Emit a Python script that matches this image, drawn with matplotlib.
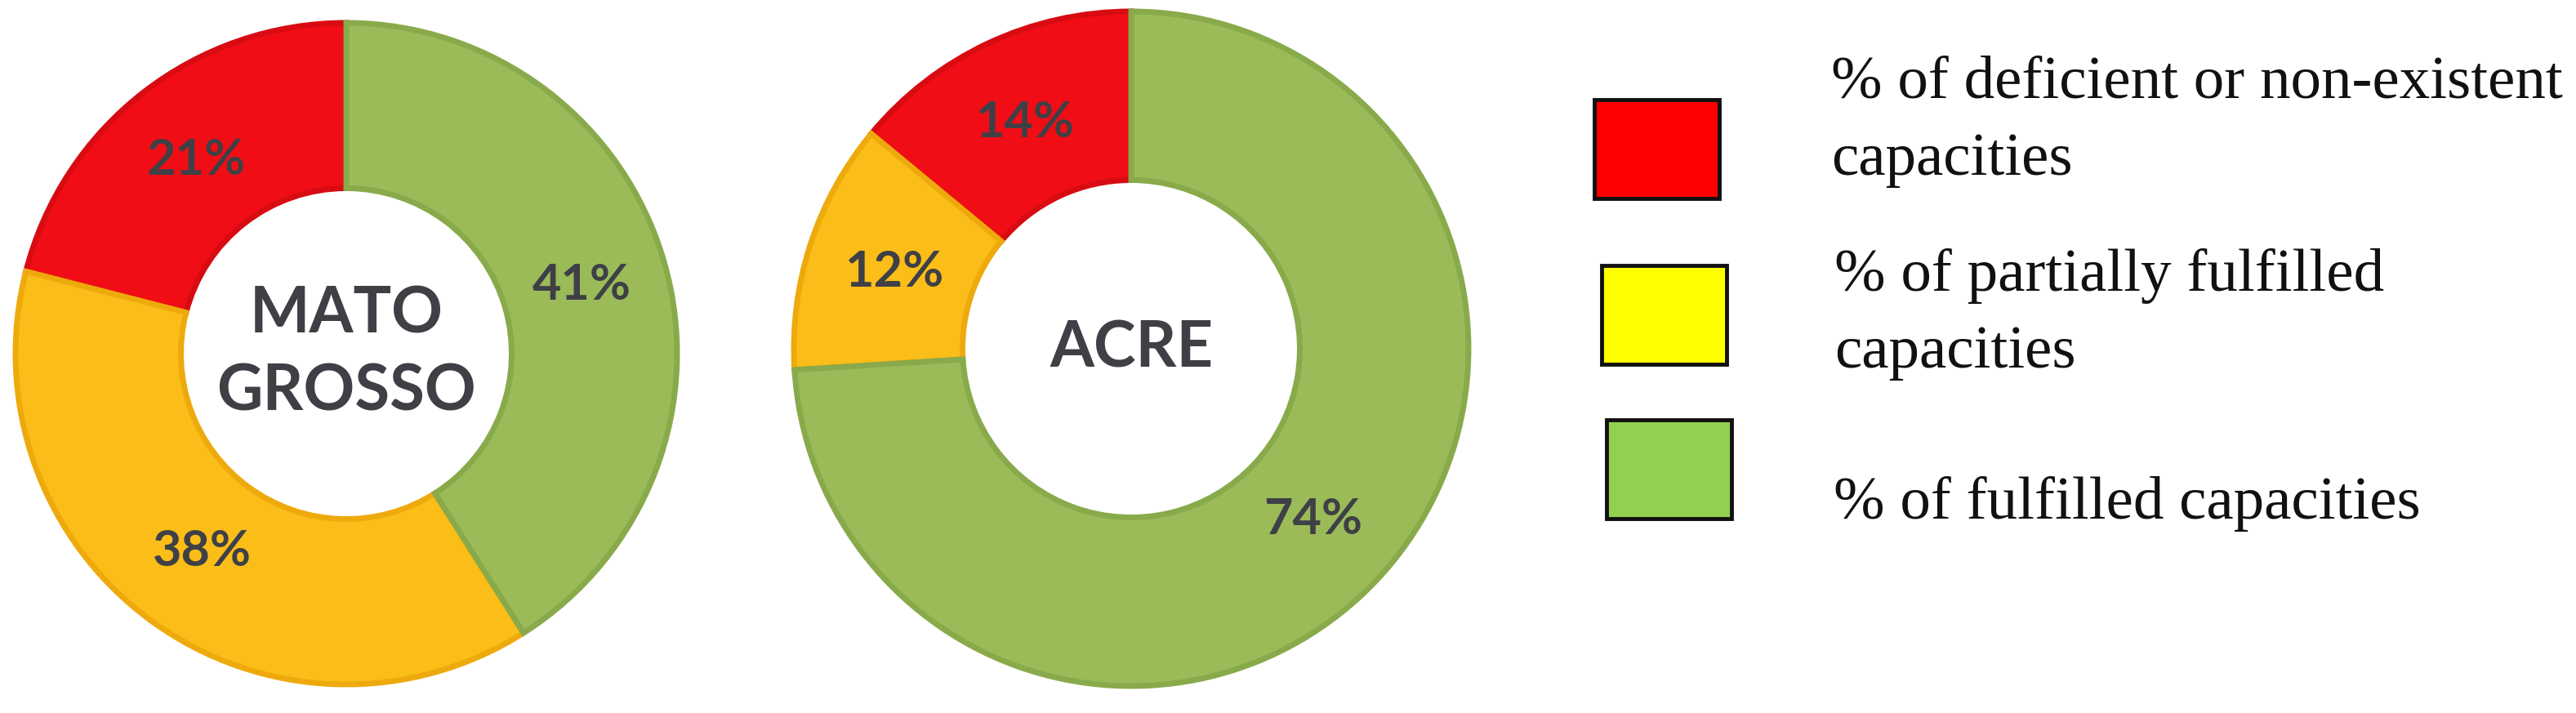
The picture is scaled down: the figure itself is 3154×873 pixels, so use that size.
import numpy as np
import matplotlib.pyplot as plt
from matplotlib.patches import Rectangle

# data
state_names = ['MATO\nGROSSO', 'ACRE']
mato_grosso = [21, 38, 41]   # deficient, partial, fulfilled
acre = [14, 12, 74]
ring_colors = ['#f00d15', '#fbbd18', '#9bbb59']
ring_edges = ['#d80b12', '#eeaa0c', '#88aa4a']
legend_labels = ['% of deficient or non-existent\ncapacities',
                 '% of partially fulfilled\ncapacities',
                 '% of fulfilled capacities']
legend_colors = ['#ff0000', '#ffff00', '#92d050']

W, H = 3154, 873
label_color = '#3f4046'

def px_axes(fig, left, top, width, height):
  return fig.add_axes([left / W, 1 - (top + height) / H, width / W, height / H])

def draw_donut(ax, values, name):
  wedges, _ = ax.pie(values, colors=ring_colors, startangle=90, counterclock=True,
                     radius=1, wedgeprops=dict(width=0.5, linewidth=5))
  for w, ec in zip(wedges, ring_edges):
    w.set_edgecolor(ec)
  total = float(sum(values))
  start = 90.0
  for v in values:
    mid = np.deg2rad(start + v / total * 180)
    ax.text(0.74 * np.cos(mid), 0.74 * np.sin(mid), f'{v}%', ha='center', va='center',
            fontsize=44, fontweight='bold', family='Lato', color=label_color)
    start += v / total * 360
  ax.text(0, 0.0, name, ha='center', va='center', fontsize=56, fontweight='bold',
          family='Lato', color=label_color, linespacing=1.4)
  ax.set_xlim(-1, 1)
  ax.set_ylim(-1, 1)
  ax.set_aspect('equal')
  ax.axis('off')

fig = plt.figure(figsize=(W / 100, H / 100), dpi=100)

ax1 = px_axes(fig, 19, 28, 810, 810)
draw_donut(ax1, mato_grosso, state_names[0])
ax2 = px_axes(fig, 972, 14, 826, 826)
draw_donut(ax2, acre, state_names[1])

# legend drawn by hand in pixel space
lax = fig.add_axes([0, 0, 1, 1])
lax.set_xlim(0, W)
lax.set_ylim(H, 0)
lax.axis('off')
box_left = [1952, 1961, 1967]
box_top = [122, 325, 514]
text_left = [2242, 2246, 2245]
text_base = [120, 356, 635]
for i, (lab, col) in enumerate(zip(legend_labels, legend_colors)):
  lax.add_patch(Rectangle((box_left[i], box_top[i]), 153, 121, facecolor=col,
                          edgecolor='#111111', linewidth=3.5))
  for j, line in enumerate(lab.split('\n')):
    lax.text(text_left[i], text_base[i] + j * 94, line, ha='left', va='baseline',
             fontsize=54, family='Liberation Serif', color='#111111')

fig.savefig('out.png', dpi=100)
